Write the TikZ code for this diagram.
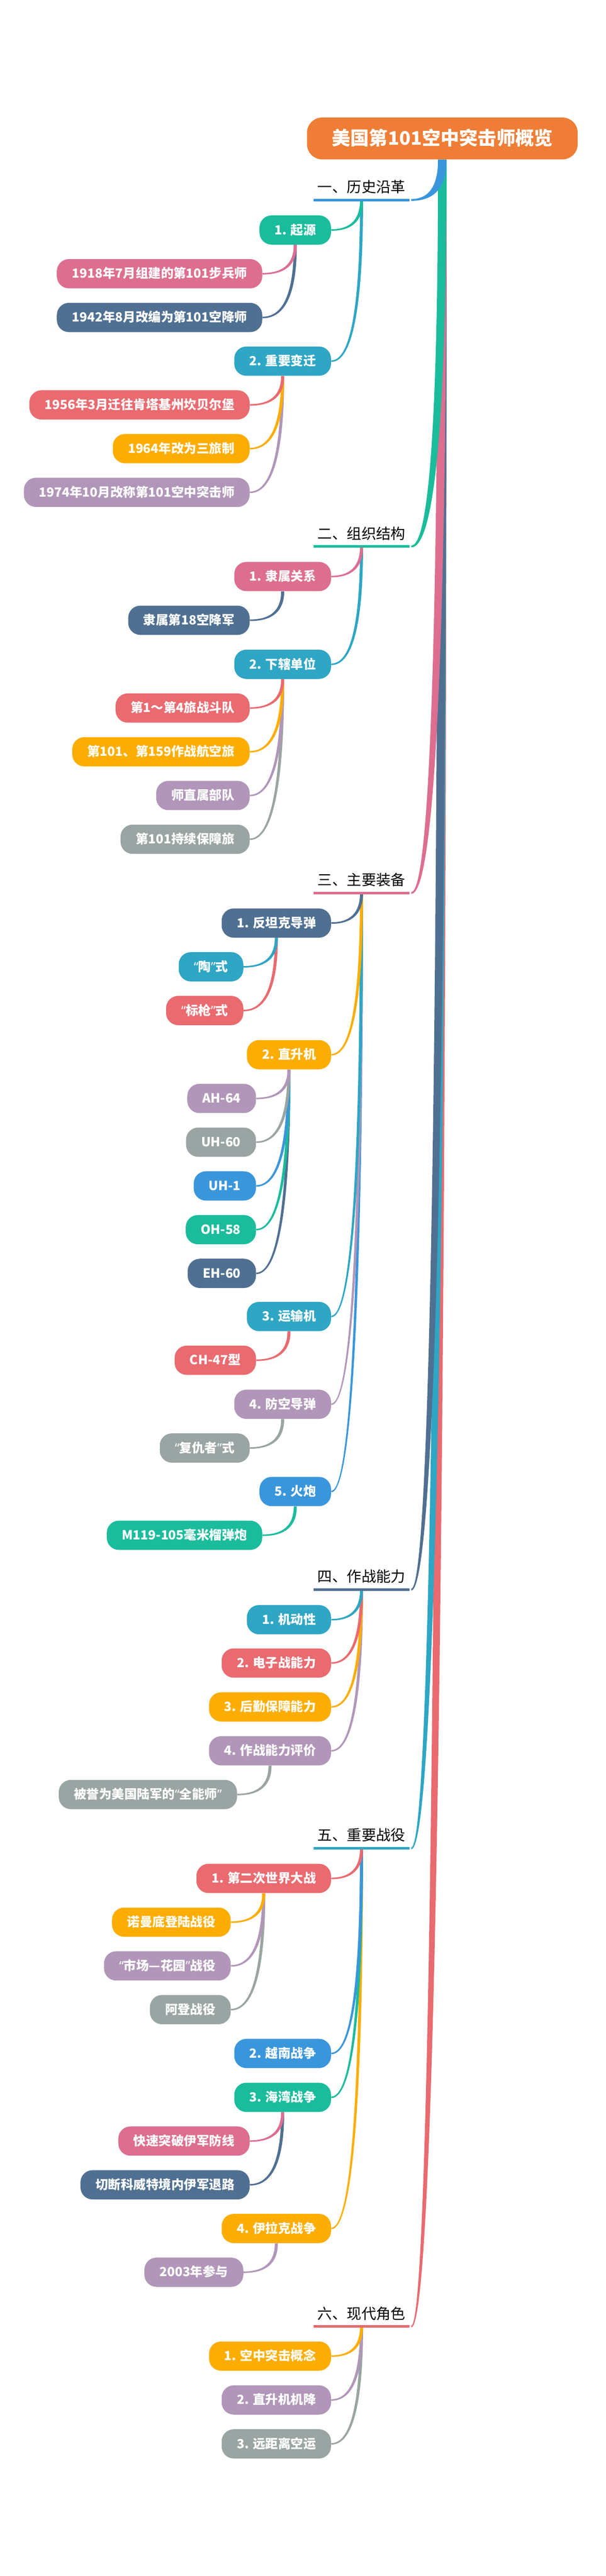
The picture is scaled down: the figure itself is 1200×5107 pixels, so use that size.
\documentclass[tikz,border=0pt]{standalone}
\usepackage{fontspec}
\setmainfont{Noto Sans CJK SC}
\newfontfamily\qf{Noto Sans}
\usetikzlibrary{calc}
\definecolor{cTeal}{HTML}{1ABC9C}
\definecolor{cPink}{HTML}{DD6E90}
\definecolor{cSlate}{HTML}{507092}
\definecolor{cCyan}{HTML}{2EA6C4}
\definecolor{cRed}{HTML}{E96A6F}
\definecolor{cOrange}{HTML}{FDAD00}
\definecolor{cLilac}{HTML}{B196B9}
\definecolor{cGray}{HTML}{99A4A3}
\definecolor{cBlue}{HTML}{3A96DB}
\definecolor{cRoot}{HTML}{EF7D35}
\pgfdeclarelayer{bg}
\pgfsetlayers{bg,main}
\newcommand\myql{{\qf “}}
\newcommand\myqr{{\qf ”}}
% tapered connector: colour, start, end, half start width, half end width
\newcommand\tconn[5]{%
  \fill[#1] let \p1=(#2), \p2=(#3) in
    ({(\x1)-#4},\y1) .. controls ({(\x1)-#4},{(\y1)+2/3*((\y2)+#5-(\y1))}) and ({(\x2)+2/3*((\x1)-#4-(\x2))},{(\y2)+#5}) .. (\x2,{(\y2)+#5})
    -- (\x2,{(\y2)-#5}) .. controls ({(\x2)+2/3*((\x1)+#4-(\x2))},{(\y2)-#5}) and ({(\x1)+#4},{(\y1)+2/3*((\y2)-#5-(\y1))}) .. ({(\x1)+#4},\y1) -- cycle;}
\newcommand\cmain[2]{\tconn{#1}{root.south}{[xshift=1.5pt]#2.south east}{4.25pt}{0.9pt}}
\newcommand\csub[3]{\tconn{#1}{#2.south}{#3.east}{1.5pt}{0.75pt}}
\begin{document}
\begin{tikzpicture}[x=0.5pt,y=-0.5pt,
  rootbox/.style={fill=cRoot, rounded corners=15pt, minimum width=268pt, minimum height=41.5pt,
    inner sep=0pt, text=white, font=\bfseries\fontsize{18.5}{22}\selectfont, text height=15pt, text depth=1.8pt},
  hdr/.style={minimum width=95pt, minimum height=25pt, inner sep=0pt, text=black,
    font=\fontsize{14.5}{17}\selectfont, text height=11.8pt, text depth=1.4pt},
  ul/.style={line width=2.5pt},
  pill/.style={rounded corners=12pt, minimum height=29pt, inner xsep=15pt, inner ysep=0pt,
    text=white, font=\bfseries\fontsize{12.5}{15}\selectfont, text height=10pt, text depth=1.2pt, anchor=east},
]
\useasboundingbox (0,0) rectangle (1200,5107);
\begin{pgfonlayer}{bg}
\fill[white] (0,0) rectangle (1200,5107);
\end{pgfonlayer}

% root
\node[rootbox] (root) at (876,274.5) {美国第101空中突击师概览};

% headers
\node[hdr] (h1) at (716,371) {一、历史沿革};
\node[hdr] (h2) at (716,1058) {二、组织结构};
\node[hdr] (h3) at (716,1745) {三、主要装备};
\node[hdr] (h4) at (716,3126) {四、作战能力};
\node[hdr] (h5) at (716,3639) {五、重要战役};
\node[hdr] (h6) at (716,4587) {六、现代角色};
\draw[ul,cBlue] (h1.south west) -- (h1.south east);
\draw[ul,cTeal] (h2.south west) -- (h2.south east);
\draw[ul,cPink] (h3.south west) -- (h3.south east);
\draw[ul,cSlate] (h4.south west) -- (h4.south east);
\draw[ul,cCyan] (h5.south west) -- (h5.south east);
\draw[ul,cRed] (h6.south west) -- (h6.south east);

% section 1
\node[pill,fill=cTeal] (n1) at (656,456) {1. 起源};
\node[pill,fill=cPink] (n1a) at ($(n1.center)+(-65,86.7)$) {1918年7月组建的第101步兵师};
\node[pill,fill=cSlate] (n1b) at ($(n1.center)+(-65,173.4)$) {1942年8月改编为第101空降师};
\node[pill,fill=cCyan] (n2) at (656,716) {2. 重要变迁};
\node[pill,fill=cRed] (n2a) at ($(n2.center)+(-65,86.7)$) {1956年3月迁往肯塔基州坎贝尔堡};
\node[pill,fill=cOrange] (n2b) at ($(n2.center)+(-65,173.4)$) {1964年改为三旅制};
\node[pill,fill=cLilac] (n2c) at ($(n2.center)+(-65,260.1)$) {1974年10月改称第101空中突击师};

% section 2
\node[pill,fill=cPink] (n3) at (656,1143) {1. 隶属关系};
\node[pill,fill=cSlate] (n3a) at ($(n3.center)+(-65,86.7)$) {隶属第18空降军};
\node[pill,fill=cCyan] (n4) at (656,1317) {2. 下辖单位};
\node[pill,fill=cRed] (n4a) at ($(n4.center)+(-65,86.7)$) {第1～第4旅战斗队};
\node[pill,fill=cOrange] (n4b) at ($(n4.center)+(-65,173.4)$) {第101、第159作战航空旅};
\node[pill,fill=cLilac] (n4c) at ($(n4.center)+(-65,260.1)$) {师直属部队};
\node[pill,fill=cGray] (n4d) at ($(n4.center)+(-65,346.8)$) {第101持续保障旅};

% section 3
\node[pill,fill=cSlate] (n5) at (656,1830) {1. 反坦克导弹};
\node[pill,fill=cCyan] (n5a) at ($(n5.center)+(-65,86.7)$) {\myql 陶\myqr 式};
\node[pill,fill=cRed] (n5b) at ($(n5.center)+(-65,173.4)$) {\myql 标枪\myqr 式};
\node[pill,fill=cOrange] (n6) at (656,2091) {2. 直升机};
\node[pill,fill=cLilac] (n6a) at ($(n6.center)+(-65,86.7)$) {AH-64};
\node[pill,fill=cGray] (n6b) at ($(n6.center)+(-65,173.4)$) {UH-60};
\node[pill,fill=cBlue] (n6c) at ($(n6.center)+(-65,260.1)$) {UH-1};
\node[pill,fill=cTeal] (n6d) at ($(n6.center)+(-65,346.8)$) {OH-58};
\node[pill,fill=cSlate] (n6e) at ($(n6.center)+(-65,433.5)$) {EH-60};
\node[pill,fill=cCyan] (n7) at (656,2610) {3. 运输机};
\node[pill,fill=cRed] (n7a) at ($(n7.center)+(-65,86.7)$) {CH-47型};
\node[pill,fill=cLilac] (n8) at (656,2784) {4. 防空导弹};
\node[pill,fill=cGray] (n8a) at ($(n8.center)+(-65,86.7)$) {\myql 复仇者\myqr 式};
\node[pill,fill=cBlue] (n9) at (656,2957) {5. 火炮};
\node[pill,fill=cTeal] (n9a) at ($(n9.center)+(-65,86.7)$) {M119-105毫米榴弹炮};

% section 4
\node[pill,fill=cCyan] (n10) at (656,3211) {1. 机动性};
\node[pill,fill=cRed] (n11) at (656,3297) {2. 电子战能力};
\node[pill,fill=cOrange] (n12) at (656,3384) {3. 后勤保障能力};
\node[pill,fill=cLilac] (n13) at (656,3471) {4. 作战能力评价};
\node[pill,fill=cGray] (n13a) at ($(n13.center)+(-65,86.7)$) {被誉为美国陆军的\myql 全能师\myqr};

% section 5
\node[pill,fill=cRed] (n14) at (656,3724) {1. 第二次世界大战};
\node[pill,fill=cOrange] (n14a) at ($(n14.center)+(-65,86.7)$) {诺曼底登陆战役};
\node[pill,fill=cLilac] (n14b) at ($(n14.center)+(-65,173.4)$) {\myql 市场—花园\myqr 战役};
\node[pill,fill=cGray] (n14c) at ($(n14.center)+(-65,260.1)$) {阿登战役};
\node[pill,fill=cBlue] (n15) at (656,4071) {2. 越南战争};
\node[pill,fill=cTeal] (n16) at (656,4158) {3. 海湾战争};
\node[pill,fill=cPink] (n16a) at ($(n16.center)+(-65,86.7)$) {快速突破伊军防线};
\node[pill,fill=cSlate] (n16b) at ($(n16.center)+(-65,173.4)$) {切断科威特境内伊军退路};
\node[pill,fill=cOrange] (n17) at (656,4418) {4. 伊拉克战争};
\node[pill,fill=cLilac] (n17a) at ($(n17.center)+(-65,86.7)$) {2003年参与};

% section 6
\node[pill,fill=cOrange] (n18) at (656,4671) {1. 空中突击概念};
\node[pill,fill=cLilac] (n19) at (656,4758) {2. 直升机机降};
\node[pill,fill=cGray] (n20) at (656,4845) {3. 远距离空运};

\begin{pgfonlayer}{bg}
% root to headers (first branch on top)
\cmain{cRed}{h6}
\cmain{cCyan}{h5}
\cmain{cSlate}{h4}
\cmain{cPink}{h3}
\cmain{cTeal}{h2}
\cmain{cBlue}{h1}
% headers to level 2
\csub{cCyan}{h1}{n2}
\csub{cTeal}{h1}{n1}
\csub{cCyan}{h2}{n4}
\csub{cPink}{h2}{n3}
\csub{cBlue}{h3}{n9}
\csub{cLilac}{h3}{n8}
\csub{cCyan}{h3}{n7}
\csub{cOrange}{h3}{n6}
\csub{cSlate}{h3}{n5}
\csub{cLilac}{h4}{n13}
\csub{cOrange}{h4}{n12}
\csub{cRed}{h4}{n11}
\csub{cCyan}{h4}{n10}
\csub{cOrange}{h5}{n17}
\csub{cTeal}{h5}{n16}
\csub{cBlue}{h5}{n15}
\csub{cRed}{h5}{n14}
\csub{cGray}{h6}{n20}
\csub{cLilac}{h6}{n19}
\csub{cOrange}{h6}{n18}
% level 2 to level 3
\csub{cSlate}{n1}{n1b}
\csub{cPink}{n1}{n1a}
\csub{cLilac}{n2}{n2c}
\csub{cOrange}{n2}{n2b}
\csub{cRed}{n2}{n2a}
\csub{cSlate}{n3}{n3a}
\csub{cGray}{n4}{n4d}
\csub{cLilac}{n4}{n4c}
\csub{cOrange}{n4}{n4b}
\csub{cRed}{n4}{n4a}
\csub{cRed}{n5}{n5b}
\csub{cCyan}{n5}{n5a}
\csub{cSlate}{n6}{n6e}
\csub{cTeal}{n6}{n6d}
\csub{cBlue}{n6}{n6c}
\csub{cGray}{n6}{n6b}
\csub{cLilac}{n6}{n6a}
\csub{cRed}{n7}{n7a}
\csub{cGray}{n8}{n8a}
\csub{cTeal}{n9}{n9a}
\csub{cGray}{n13}{n13a}
\csub{cGray}{n14}{n14c}
\csub{cLilac}{n14}{n14b}
\csub{cOrange}{n14}{n14a}
\csub{cSlate}{n16}{n16b}
\csub{cPink}{n16}{n16a}
\csub{cLilac}{n17}{n17a}
\end{pgfonlayer}
\end{tikzpicture}
\end{document}
